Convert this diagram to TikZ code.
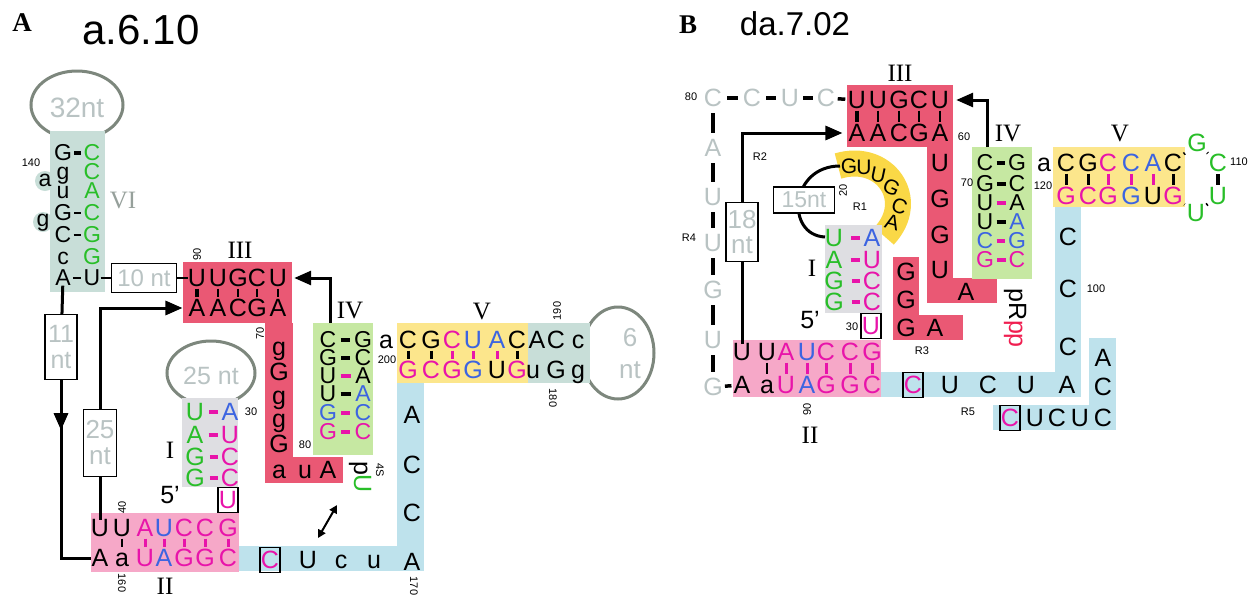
\documentclass[tikz,border=0pt]{standalone}
\usepackage{fontspec}
\setmainfont{Liberation Sans}
\newfontfamily\romf{Liberation Serif}
\usetikzlibrary{arrows.meta}
\definecolor{redbg}{RGB}{234,88,116}
\definecolor{pinkbg}{RGB}{246,168,200}
\definecolor{greenbg}{RGB}{198,232,162}
\definecolor{yelbg}{RGB}{252,230,140}
\definecolor{bluebg}{RGB}{190,226,236}
\definecolor{graybg}{RGB}{222,222,226}
\definecolor{tealbg}{RGB}{200,222,216}
\definecolor{ryel}{RGB}{250,216,70}
\definecolor{mag}{RGB}{232,20,170}
\definecolor{blu}{RGB}{60,100,225}
\definecolor{grn}{RGB}{40,190,40}
\definecolor{gtxt}{RGB}{185,195,195}
\definecolor{romg}{RGB}{150,160,155}
\definecolor{loopc}{RGB}{125,135,125}
\definecolor{crim}{RGB}{240,30,80}
\newcommand\ntx[5]{\node[nt,text=#4] (#1) at (#2,#3) {#5};}
\newcommand\ntc[5]{\node[ntt,text=#4] (#1) at (#2,#3) {#5};}
\begin{document}
\begin{tikzpicture}[x=1pt,y=-1pt,
  nt/.style={font=\fontsize{25}{25}\selectfont, inner sep=0pt, text height=16pt, text depth=0pt},
  ntt/.style={font=\fontsize{23}{23}\selectfont, inner sep=0pt, text height=15pt, text depth=0pt},
  ntsm/.style={font=\fontsize{21}{21}\selectfont, inner sep=0pt, text height=12pt, text depth=0pt},
  ntb/.style={nt, draw=black, line width=1.3pt, minimum width=20pt, minimum height=25pt},
  num/.style={font=\fontsize{11}{11}\selectfont, inner sep=0pt},
  rom/.style={font=\romf\fontsize{25}{25}\selectfont, inner sep=0pt},
  gbox/.style={draw=black, line width=1.4pt, fill=white, inner sep=0pt, text=gtxt, align=center, font=\fontsize{24}{25}\selectfont},
  gtext/.style={text=gtxt, inner sep=0pt, font=\fontsize{26}{26}\selectfont, align=center},
  loopl/.style={draw=loopc, line width=3pt},
  lnk/.style={line width=3pt},
  arr/.style={line width=3pt, -{Triangle[length=17pt,width=14pt]}},
  pd/.style={line width=3.5pt, shorten <=4pt, shorten >=4pt},
  tk/.style={line width=3pt, shorten <=2.5pt, shorten >=3pt},
  tkthin/.style={line width=1.2pt, shorten <=2.5pt, shorten >=3pt},
]
\fill[white] (0,0) rectangle (1253,598);
\useasboundingbox (0,0) rectangle (1253,598);

%%%%%%%%%%%%%%%% PANEL A %%%%%%%%%%%%%%%%
\node[font=\romf\bfseries\fontsize{27}{27}\selectfont, inner sep=0pt] (labA) at (22,23) {A};
\node[font=\fontsize{42}{42}\selectfont, inner sep=0pt] (titA) at (141,30) {a.6.10};

% loops (drawn first, covered by stems)
\draw[loopl] (77,105) ellipse [x radius=46pt, y radius=34pt];
\draw[loopl] (211,373) ellipse [x radius=44pt, y radius=32pt];
\draw[loopl] (618,353) ellipse [x radius=36pt, y radius=46pt];

% backgrounds
\fill[tealbg] (50,131) rectangle (105,292);
\fill[tealbg] (45,181) circle[radius=10pt];
\fill[tealbg] (43,222) circle[radius=10pt];
\fill[redbg] (183,262) rectangle (292,323);
\fill[redbg] (265,323) rectangle (293,483);
\fill[redbg] (265,457) rectangle (343,483);
\fill[greenbg] (313,323) rectangle (373,455);
\fill[yelbg] (397,323) rectangle (528,383);
\fill[tealbg] (528,323) rectangle (590,383);
\fill[bluebg] (397,383) rectangle (424,571);
\fill[bluebg] (239,546) rectangle (424,571);
\fill[pinkbg] (91,513) rectangle (239,572);
\fill[graybg] (182,398) rectangle (238,487);

% loop texts
\node[gtext, font=\fontsize{28}{28}\selectfont] (t32) at (77,108) {32nt};
\node[gtext, font=\fontsize{25}{25}\selectfont] (t25) at (211,376) {25 nt};
\node[gtext] (t6a) at (630,338) {6};
\node[gtext] (t6b) at (630,370) {nt};

% stem VI
\ntc{v1l}{63}{153}{black}{G} \ntc{v1r}{92}{153}{grn}{C}
\ntc{v2l}{63}{172}{black}{g} \ntc{v2r}{92}{172}{grn}{C}
\ntc{v3l}{63}{191}{black}{u} \ntc{v3r}{92}{191}{grn}{A}
\ntc{v4l}{63}{213}{black}{G} \ntc{v4r}{92}{213}{grn}{C}
\ntc{v5l}{63}{235}{black}{C} \ntc{v5r}{92}{235}{grn}{G}
\ntc{v6l}{63}{257}{black}{c} \ntc{v6r}{92}{257}{grn}{G}
\ntc{v7l}{63}{278}{black}{A} \ntc{v7r}{92}{278}{black}{U}
\ntc{vb1}{45}{179}{black}{a}
\ntc{vb2}{43}{219}{black}{g}
\draw[pd, line width=4pt, shorten <=2pt, shorten >=2pt] (v1l) -- (v1r);
\draw[pd, line width=1.5pt, shorten <=2pt, shorten >=2pt] (v4l) -- (v4r);
\draw[pd, line width=1.5pt, shorten <=2pt, shorten >=2pt] (v5l) -- (v5r);
\draw[pd, line width=1.5pt, shorten <=2pt, shorten >=2pt] (v7l) -- (v7r);
\node[num] (n140) at (31,163) {140};
\node[rom, text=romg] (lVI) at (123,200) {VI};

% 10 nt box
\node[gbox, minimum width=65pt, minimum height=29pt] (b10) at (144,278) {10 nt};
\draw[line width=2pt] (v7r) -- (b10);

% helix III
\ntx{a3t1}{197}{278}{black}{U} \ntx{a3t2}{218}{278}{black}{U} \ntx{a3t3}{238}{278}{black}{G}
\ntx{a3t4}{257}{278}{black}{C} \ntx{a3t5}{278}{278}{black}{U}
\ntx{a3b1}{197}{308}{black}{A} \ntx{a3b2}{218}{308}{black}{A} \ntx{a3b3}{238}{308}{black}{C}
\ntx{a3b4}{257}{308}{black}{G} \ntx{a3b5}{278}{308}{black}{A}
\draw[line width=2pt] (b10) -- (a3t1);
\draw[tk, line width=3.5pt] (a3t1) -- (a3b1);
\draw[tkthin] (a3t2) -- (a3b2);
\draw[tkthin] (a3t3) -- (a3b3);
\draw[tkthin] (a3t4) -- (a3b4);
\draw[tkthin] (a3t5) -- (a3b5);
\node[num, rotate=90] (n90) at (197,254) {90};
\node[rom] (lIII) at (240,250) {III};

% red strand
\ntx{ar1}{279}{347}{black}{g}
\ntx{ar2}{279}{372}{black}{G}
\ntx{ar3}{279}{396}{black}{g}
\ntx{ar4}{279}{419}{black}{g}
\ntx{ar5}{279}{444}{black}{G}
\ntx{ar6}{279}{470}{black}{a}
\ntx{ar7}{305}{470}{black}{u}
\ntx{ar8}{328}{470}{black}{A}
\node[num, rotate=90] (n70) at (260,333) {70};
\node[num] (n80) at (305,445) {80};

% helix IV
\ntc{a4l1}{328}{340}{black}{C} \ntc{a4r1}{363}{340}{black}{G}
\ntc{a4l2}{328}{358}{black}{G} \ntc{a4r2}{363}{358}{black}{C}
\ntc{a4l3}{328}{376}{black}{U} \ntc{a4r3}{363}{376}{black}{A}
\ntc{a4l4}{328}{394}{black}{U} \ntc{a4r4}{363}{394}{blu}{A}
\ntc{a4l5}{328}{413}{blu}{G} \ntc{a4r5}{363}{413}{blu}{C}
\ntc{a4l6}{328}{432}{mag}{G} \ntc{a4r6}{363}{432}{mag}{C}
\draw[pd] (a4l1) -- (a4r1);
\draw[pd] (a4l2) -- (a4r2);
\draw[pd, mag] (a4l3) -- (a4r3);
\draw[pd] (a4l4) -- (a4r4);
\draw[pd, mag] (a4l5) -- (a4r5);
\draw[pd, mag] (a4l6) -- (a4r6);
\ntx{a4a}{386}{340}{black}{a}
\node[num] (n200) at (387,360) {200};
\node[rom] (lIV) at (350,310) {IV};
\coordinate (a4top) at (330,323);
\draw[arr] (a4top) |- ([xshift=7pt]a3t5.east);

% helix V
\ntx{a5t1}{408}{340}{black}{C} \ntx{a5t2}{431}{340}{black}{G} \ntx{a5t3}{452}{340}{mag}{C}
\ntx{a5t4}{473}{340}{blu}{U} \ntx{a5t5}{497}{340}{blu}{A} \ntx{a5t6}{517}{340}{black}{C}
\ntx{a5b1}{408}{370}{mag}{G} \ntx{a5b2}{431}{370}{mag}{C} \ntx{a5b3}{452}{370}{mag}{G}
\ntx{a5b4}{473}{370}{blu}{G} \ntx{a5b5}{497}{370}{black}{U} \ntx{a5b6}{517}{370}{mag}{G}
\draw[tk] (a5t1) -- (a5b1);
\draw[tk] (a5t2) -- (a5b2);
\draw[tk, mag] (a5t3) -- (a5b3);
\draw[tk, mag] (a5t4) -- (a5b4);
\draw[tk, mag] (a5t5) -- (a5b5);
\draw[tk] (a5t6) -- (a5b6);
\node[rom] (lV) at (482,311) {V};

% teal box near 6 nt loop
\ntx{a6t1}{537}{340}{black}{A} \ntx{a6t2}{556}{340}{black}{C} \ntx{a6t3}{578}{340}{black}{c}
\ntx{a6b1}{533}{370}{black}{u} \ntx{a6b2}{556}{370}{black}{G} \ntx{a6b3}{578}{370}{black}{g}
\node[num, rotate=90] (n190) at (557,311) {190};
\node[num, rotate=-90] (n180) at (553,398) {180};

% blue strand
\ntx{ab1}{412}{415}{black}{A}
\ntx{ab2}{412}{465}{black}{C}
\ntx{ab3}{412}{513}{black}{C}
\ntx{ab4}{412}{562}{black}{A}
\ntx{ab5}{374}{560}{black}{u}
\ntx{ab6}{341}{560}{black}{c}
\ntx{ab7}{308}{560}{black}{U}
\node[ntb, text=mag] (abC) at (270,560) {C};
\node[num, rotate=-90] (n170) at (414,586) {170};
\coordinate (dA1) at (318,538);
\coordinate (dA2) at (337,505);
\draw[line width=2pt, {Triangle[length=8pt,width=8pt]}-{Triangle[length=8pt,width=8pt]}] (dA1) -- (dA2);
\node[nt, rotate=-90] (pU) at (362,477) {p\textcolor{grn}{U}};
\node[num, rotate=-90] (n4S) at (380,470) {4S};

% helix II
\ntx{a2t1}{100}{528}{black}{U} \ntx{a2t2}{122}{528}{black}{U} \ntx{a2t3}{145}{528}{mag}{A}
\ntx{a2t4}{164}{528}{blu}{U} \ntx{a2t5}{184}{528}{mag}{C} \ntx{a2t6}{205}{528}{mag}{C} \ntx{a2t7}{228}{528}{mag}{G}
\ntx{a2b1}{100}{558}{black}{A} \ntx{a2b2}{122}{558}{black}{a} \ntx{a2b3}{145}{558}{mag}{U}
\ntx{a2b4}{164}{558}{blu}{A} \ntx{a2b5}{184}{558}{mag}{G} \ntx{a2b6}{205}{558}{mag}{G} \ntx{a2b7}{228}{558}{mag}{C}
\draw[tkthin] (a2t2) -- (a2b2);
\draw[tk, mag] (a2t3) -- (a2b3);
\draw[tk, mag] (a2t4) -- (a2b4);
\draw[tk, mag] (a2t5) -- (a2b5);
\draw[tk, mag] (a2t6) -- (a2b6);
\draw[tk, mag] (a2t7) -- (a2b7);
\node[num, rotate=90] (n40) at (122,507) {40};
\node[num, rotate=-90] (n160) at (122,583) {160};
\node[rom] (lII) at (165,586) {II};
\node[nt] (a5p) at (170,495) {5'};
\node[ntb, text=mag] (a1U) at (228,500) {U};

% helix I
\ntx{a1l1}{195}{412}{grn}{U} \ntx{a1r1}{230}{412}{blu}{A}
\ntx{a1l2}{195}{435}{grn}{A} \ntx{a1r2}{230}{435}{mag}{U}
\ntx{a1l3}{195}{457}{grn}{G} \ntx{a1r3}{230}{457}{mag}{C}
\ntx{a1l4}{195}{478}{grn}{G} \ntx{a1r4}{230}{478}{mag}{C}
\draw[pd, mag, shorten <=5pt, shorten >=3pt] (a1l1) -- (a1r1);
\draw[pd, mag, shorten <=5pt, shorten >=3pt] (a1l2) -- (a1r2);
\draw[pd, mag, shorten <=5pt, shorten >=3pt] (a1l3) -- (a1r3);
\draw[pd, mag, shorten <=5pt, shorten >=3pt] (a1l4) -- (a1r4);
\node[num] (n30) at (251,412) {30};
\node[rom] (lI) at (170,450) {I};

% long-range arrows
\node[gbox, minimum width=32pt, minimum height=65pt, font=\fontsize{25}{26}\selectfont] (b11) at (61,347) {11\\nt};
\node[gbox, minimum width=33pt, minimum height=67pt, font=\fontsize{26}{26}\selectfont] (b25) at (100,443) {25\\nt};
\draw[lnk] (v7l) -- (b11);
\draw[lnk] (b11.south) |- (a2b1.west);
\draw[arr] (b11.south) -- ++(0,50);
\draw[lnk] (a2t1) -- (b25);
\draw[arr] (b25.north) |- ([xshift=-6pt]a3b1.west);

%%%%%%%%%%%%%%%% PANEL B %%%%%%%%%%%%%%%%
\node[font=\romf\bfseries\fontsize{27}{27}\selectfont, inner sep=0pt] (labB) at (688,25) {B};
\node[font=\fontsize{33}{33}\selectfont, inner sep=0pt] (titB) at (795,24) {da.7.02};

% backgrounds
\draw[ryel, line width=26pt] (838,166) .. controls (885,152) and (918,200) .. (884,236);
\fill[redbg] (847,85) rectangle (953,147);
\fill[redbg] (927,147) rectangle (953,303);
\fill[redbg] (927,278) rectangle (997,303);
\fill[redbg] (893,257) rectangle (919,340);
\fill[redbg] (893,315) rectangle (963,340);
\fill[greenbg] (972,147) rectangle (1032,279);
\fill[yelbg] (1053,147) rectangle (1185,207);
\fill[bluebg] (1055,207) rectangle (1081,397);
\fill[bluebg] (881,372) rectangle (1081,397);
\fill[bluebg] (1089,338) rectangle (1116,430);
\fill[bluebg] (993,405) rectangle (1116,430);
\fill[pinkbg] (733,340) rectangle (881,397);
\fill[graybg] (825,225) rectangle (882,313);

% grey chain (R4)
\ntx{bc1}{713}{98}{gtxt}{C} \ntx{bc2}{752}{98}{gtxt}{C} \ntx{bc3}{790}{98}{gtxt}{U} \ntx{bc4}{826}{98}{gtxt}{C}
\ntx{bv1}{713}{148}{gtxt}{A} \ntx{bv2}{713}{197}{gtxt}{U} \ntx{bv3}{713}{243}{gtxt}{U}
\ntx{bv4}{713}{290}{gtxt}{G} \ntx{bv5}{713}{340}{gtxt}{U} \ntx{bv6}{713}{387}{gtxt}{G}
\node[num] (n80b) at (691,97) {80};
\node[num] (nR4) at (689,238) {R4};

% helix III (B)
\ntx{b3t1}{857}{100}{black}{U} \ntx{b3t2}{878}{100}{black}{U} \ntx{b3t3}{899}{100}{black}{G}
\ntx{b3t4}{919}{100}{black}{C} \ntx{b3t5}{940}{100}{black}{U}
\ntx{b3b1}{857}{133}{black}{A} \ntx{b3b2}{878}{133}{black}{A} \ntx{b3b3}{899}{133}{black}{C}
\ntx{b3b4}{919}{133}{black}{G} \ntx{b3b5}{940}{133}{black}{A}
\draw[tk, line width=3.5pt] (b3t1) -- (b3b1);
\draw[tkthin] (b3t2) -- (b3b2);
\draw[tkthin] (b3t3) -- (b3b3);
\draw[tkthin] (b3t4) -- (b3b4);
\draw[tkthin] (b3t5) -- (b3b5);
\node[rom] (lIIIb) at (900,73) {III};
\node[num] (n60) at (964,137) {60};

\draw[pd, shorten <=5pt, shorten >=5pt] (bc1) -- (bc2);
\draw[pd, shorten <=5pt, shorten >=5pt] (bc2) -- (bc3);
\draw[pd, shorten <=4pt, shorten >=4pt] (bc3) -- (bc4);
\draw[pd, shorten <=2.5pt, shorten >=2.5pt] (bc4) -- (b3t1);
\draw[pd, shorten <=7pt, shorten >=7pt] (bc1) -- (bv1);
\draw[pd, shorten <=7pt, shorten >=7pt] (bv1) -- (bv2);
\draw[pd, shorten <=7pt, shorten >=7pt] (bv2) -- (bv3);
\draw[pd, shorten <=7pt, shorten >=7pt] (bv3) -- (bv4);
\draw[pd, shorten <=7pt, shorten >=7pt] (bv4) -- (bv5);
\draw[pd, shorten <=7pt, shorten >=7pt] (bv5) -- (bv6);

% red strand (B)
\ntx{br1}{940}{163}{black}{U}
\ntx{br2}{940}{199}{black}{G}
\ntx{br3}{940}{235}{black}{G}
\ntx{br4}{940}{270}{black}{U}
\ntx{br5}{966}{292}{black}{A}
\node[num] (n70b) at (967,183) {70};

% R3
\ntx{bg1}{906}{272}{black}{G}
\ntx{bg2}{906}{300}{black}{G}
\ntx{bg3}{906}{328}{black}{G}
\ntx{bg4}{935}{328}{black}{A}
\node[num] (nR3) at (922,351) {R3};

% helix IV (B)
\ntc{b4l1}{985}{163}{black}{C} \ntc{b4r1}{1017}{163}{black}{G}
\ntc{b4l2}{985}{184}{black}{G} \ntc{b4r2}{1017}{184}{black}{C}
\ntc{b4l3}{985}{203}{black}{U} \ntc{b4r3}{1017}{203}{black}{A}
\ntc{b4l4}{985}{222}{black}{U} \ntc{b4r4}{1017}{222}{blu}{A}
\ntc{b4l5}{985}{241}{blu}{C} \ntc{b4r5}{1017}{241}{blu}{G}
\ntc{b4l6}{985}{260}{mag}{G} \ntc{b4r6}{1017}{260}{mag}{C}
\draw[pd, shorten <=3pt, shorten >=3pt] (b4l1) -- (b4r1);
\draw[pd, shorten <=3pt, shorten >=3pt] (b4l2) -- (b4r2);
\draw[pd, mag, shorten <=3pt, shorten >=3pt] (b4l3) -- (b4r3);
\draw[pd, shorten <=3pt, shorten >=3pt] (b4l4) -- (b4r4);
\draw[pd, mag, shorten <=3pt, shorten >=3pt] (b4l5) -- (b4r5);
\draw[pd, mag, shorten <=3pt, shorten >=3pt] (b4l6) -- (b4r6);
\ntx{b4a}{1044}{163}{black}{a}
\node[num] (n120) at (1043,186) {120};
\node[rom] (lIVb) at (1008,133) {IV};
\coordinate (b4top) at (987,147);
\draw[arr] (b4top) |- ([xshift=7pt]b3t5.east);

% helix V (B)
\ntx{b5t1}{1066}{163}{black}{C} \ntx{b5t2}{1088}{163}{black}{G} \ntx{b5t3}{1108}{163}{mag}{C}
\ntx{b5t4}{1131}{163}{blu}{C} \ntx{b5t5}{1153}{163}{blu}{A} \ntx{b5t6}{1173}{163}{black}{C}
\ntx{b5b1}{1066}{196}{mag}{G} \ntx{b5b2}{1088}{196}{mag}{C} \ntx{b5b3}{1108}{196}{mag}{G}
\ntx{b5b4}{1131}{196}{blu}{G} \ntx{b5b5}{1153}{196}{black}{U} \ntx{b5b6}{1173}{196}{mag}{G}
\draw[tk] (b5t1) -- (b5b1);
\draw[tk] (b5t2) -- (b5b2);
\draw[tk, mag] (b5t3) -- (b5b3);
\draw[tk, mag] (b5t4) -- (b5b4);
\draw[tk, mag] (b5t5) -- (b5b5);
\draw[tk] (b5t6) -- (b5b6);
\node[rom] (lVb) at (1120,133) {V};
\ntx{bh1}{1197}{143}{grn}{G}
\ntx{bh2}{1218}{163}{grn}{C}
\ntx{bh3}{1218}{196}{grn}{U}
\ntx{bh4}{1196}{213}{grn}{U}
\draw[line width=3pt, shorten <=2pt, shorten >=3pt] (b5t6) -- (bh1);
\draw[line width=3pt, shorten <=3pt, shorten >=3pt] (bh1) -- (bh2);
\draw[line width=3.5pt, shorten <=3pt, shorten >=3pt] (bh2) -- (bh3);
\draw[line width=3pt, shorten <=3pt, shorten >=3pt] (bh3) -- (bh4);
\draw[line width=3pt, shorten <=3pt, shorten >=2pt] (bh4) -- (b5b6);
\node[num] (n110) at (1239,162) {110};

% blue strand (B)
\ntx{bb1}{1068}{237}{black}{C}
\ntx{bb2}{1068}{289}{black}{C}
\ntx{bb3}{1068}{347}{black}{C}
\ntx{bb4}{1067}{385}{black}{A}
\ntx{bb5}{1026}{385}{black}{U}
\ntx{bb6}{988}{385}{black}{C}
\ntx{bb7}{950}{385}{black}{U}
\node[ntb, text=mag] (bbC) at (913,385) {C};
\ntx{bc5a}{1103}{358}{black}{A}
\ntx{bc5b}{1103}{387}{black}{C}
\ntx{bc5c}{1103}{418}{black}{C}
\ntx{bc5d}{1080}{418}{black}{U}
\ntx{bc5e}{1057}{418}{black}{C}
\ntx{bc5f}{1035}{418}{black}{U}
\node[ntb, text=mag] (bbC2) at (1010,418) {C};
\node[num] (n100) at (1096,289) {100};
\node[num] (nR5) at (968,412) {R5};
\node[nt, rotate=-90] (pRpp) at (1017,318) {pR\textcolor{crim}{pp}};

% helix II (B)
\ntx{b2t1}{742}{352}{black}{U} \ntx{b2t2}{767}{352}{black}{U} \ntx{b2t3}{786}{352}{mag}{A}
\ntx{b2t4}{807}{352}{blu}{U} \ntx{b2t5}{826}{352}{mag}{C} \ntx{b2t6}{850}{352}{mag}{C} \ntx{b2t7}{872}{352}{mag}{G}
\ntx{b2b1}{742}{385}{black}{A} \ntx{b2b2}{767}{385}{black}{a} \ntx{b2b3}{786}{385}{mag}{U}
\ntx{b2b4}{807}{385}{blu}{A} \ntx{b2b5}{826}{385}{mag}{G} \ntx{b2b6}{850}{385}{mag}{G} \ntx{b2b7}{872}{385}{mag}{C}
\draw[tkthin] (b2t2) -- (b2b2);
\draw[tk, mag] (b2t3) -- (b2b3);
\draw[tk, mag] (b2t4) -- (b2b4);
\draw[tk, mag] (b2t5) -- (b2b5);
\draw[tk, mag] (b2t6) -- (b2b6);
\draw[tk, mag] (b2t7) -- (b2b7);
\draw[pd, shorten <=2pt, shorten >=2pt] (bv6) -- (b2b1);
\node[num, rotate=90] (n90b) at (807,409) {90};
\node[rom] (lIIb) at (810,435) {II};

% helix I (B) and R1
\draw[line width=3pt] (840,166) .. controls (790,166) and (785,235) .. (825,237);
\node[gbox, minimum width=61pt, minimum height=26pt, font=\fontsize{23}{23}\selectfont] (b15) at (804,200) {15nt};
\ntx{b1l1}{834}{238}{grn}{U} \ntx{b1r1}{872}{238}{blu}{A}
\ntx{b1l2}{834}{260}{grn}{A} \ntx{b1r2}{872}{260}{mag}{U}
\ntx{b1l3}{834}{281}{grn}{G} \ntx{b1r3}{872}{281}{mag}{C}
\ntx{b1l4}{834}{302}{grn}{G} \ntx{b1r4}{872}{302}{mag}{C}
\draw[pd, mag, shorten <=8pt, shorten >=3pt] (b1l1) -- (b1r1);
\draw[pd, mag, shorten <=8pt, shorten >=3pt] (b1l2) -- (b1r2);
\draw[pd, mag, shorten <=8pt, shorten >=3pt] (b1l3) -- (b1r3);
\draw[pd, mag, shorten <=8pt, shorten >=3pt] (b1l4) -- (b1r4);
\node[rom] (lIb) at (812,268) {I};
\node[nt] (b5p) at (810,320) {5'};
\node[num] (n30b) at (852,327) {30};
\node[ntb, text=mag] (b1U) at (871,326) {U};
\node[ntsm] (ry1) at (849,167) {G};
\node[ntsm] (ry2) at (864,168) {U};
\node[ntsm, rotate=-12] (ry3) at (878,176) {U};
\node[ntsm, rotate=-25] (ry4) at (891,189) {G};
\node[ntsm, rotate=-20] (ry5) at (899,207) {C};
\node[ntsm, rotate=-15] (ry6) at (892,224) {A};
\node[num, rotate=90] (n20) at (843,190) {20};
\node[num] (nR1) at (860,207) {R1};

% R2 arrow
\node[gbox, minimum width=32pt, minimum height=59pt, font=\fontsize{26}{25}\selectfont] (b18) at (742,232) {18\\nt};
\draw[lnk] (b2t1) -- (b18);
\draw[arr] (b18.north) |- ([xshift=-6pt]b3b1.west);
\node[num] (nR2) at (760,157) {R2};
\end{tikzpicture}
\end{document}
